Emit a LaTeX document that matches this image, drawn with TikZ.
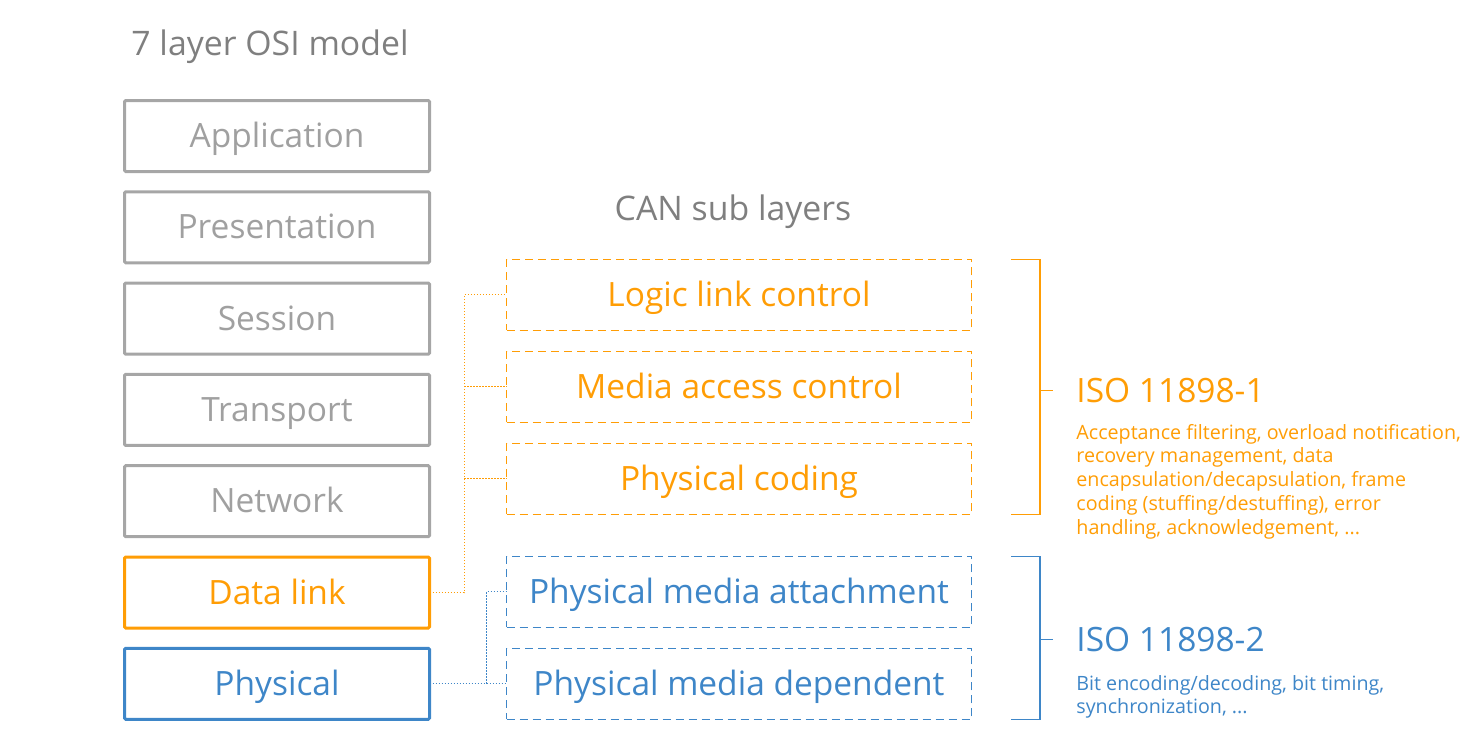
\documentclass[tikz,border=0pt]{standalone}
\usepackage{fontspec}
\setmainfont{Open Sans}
\usetikzlibrary{positioning}
\usetikzlibrary{calc}
\definecolor{osigray}{HTML}{A6A6A6}
\definecolor{ositext}{HTML}{A0A0A0}
\definecolor{headgray}{HTML}{7F7F7F}
\definecolor{canorange}{HTML}{FF9D05}
\definecolor{canblue}{HTML}{3E86C8}
\tikzset{
    osibox/.style = {rectangle, line width=1.5pt, draw=osigray, rounded corners=0.6pt, minimum width=152.5pt, minimum height=35.5pt, inner sep=0pt, outer sep=0pt, text height=14pt, text depth=2.5pt, text=ositext, font=\fontsize{16.75}{20}\selectfont},
    osiboxo/.style = {osibox, draw=canorange, text=canorange},
    osiboxb/.style = {osibox, draw=canblue, text=canblue},
    subbox/.style = {rectangle, line width=0.75pt, dash pattern=on 4pt off 2.5pt, minimum width=232.5pt, minimum height=35.5pt, inner sep=0pt, outer sep=0pt, text height=14pt, text depth=2.5pt, font=\fontsize{16.75}{20}\selectfont},
    subboxo/.style = {subbox, draw=canorange, text=canorange},
    subboxb/.style = {subbox, draw=canblue, text=canblue},
    linko/.style = {line width=0.5pt, canorange, dash pattern=on 0.75pt off 0.75pt},
    linkb/.style = {line width=0.5pt, canblue, dash pattern=on 0.75pt off 0.75pt},
    brko/.style = {line width=0.6pt, canorange},
    brkb/.style = {line width=0.6pt, canblue},
    heading/.style = {inner sep=0pt, text=headgray, font=\fontsize{16.9}{20}\selectfont},
    isotitle/.style = {inner sep=0pt, font=\fontsize{16.75}{20}\selectfont},
    isotext/.style = {inner sep=0pt, align=left, font=\fontsize{9.85}{11.85}\selectfont}
}
\begin{document}
\begin{tikzpicture}[x=0.5pt, y=-0.5pt, node distance=10.15pt]
  \useasboundingbox (0,0) rectangle (1466,746);

  % osi layers
  \node[osibox] (app) at (277,136) {Application};
  \node[osibox, below=of app] (pres) {Presentation};
  \node[osibox, below=of pres] (sess) {Session};
  \node[osibox, below=of sess] (trans) {Transport};
  \node[osibox, below=of trans] (net) {Network};
  \node[osiboxo, below=of net] (dl) {Data link};
  \node[osiboxb, below=of dl] (phy) {Physical};
  \node[heading, anchor=base west] (ositle) at (131,55) {7 layer OSI model};

  % can sub layers
  \node[subboxb, right=38.5pt of phy] (pmd) {Physical media dependent};
  \node[subboxb, above=10.5pt of pmd] (pma) {Physical media attachment};
  \node[subboxo, above=21pt of pma] (pc) {Physical coding};
  \node[subboxo, above=10.5pt of pc] (mac) {Media access control};
  \node[subboxo, above=10.5pt of mac] (llc) {Logic link control};
  \node[heading, anchor=base] (cantitle) at (733,220) {CAN sub layers};

  % dotted links
  \coordinate (obus) at ([xshift=17.25pt]dl.east);
  \draw[linko] (dl.east) -- (obus) |- (llc.west);
  \draw[linko] (obus |- mac.west) -- (mac.west);
  \draw[linko] (obus |- pc.west) -- (pc.west);
  \coordinate (bbus) at ([xshift=28.5pt]phy.east);
  \draw[linkb] (phy.east) -- (pmd.west);
  \draw[linkb] (bbus) |- (pma.west);

  % brackets
  \draw[brko] ([xshift=19.75pt]llc.north east) -| ([xshift=34.25pt]pc.south east) -- ([xshift=19.75pt]pc.south east);
  \coordinate (omid) at ([xshift=34.25pt,yshift=-1.75pt]mac.east);
  \draw[brko] (omid) -- ++(6.5pt,0);
  \draw[brkb] ([xshift=19.75pt]pma.north east) -| ([xshift=34.25pt]pmd.south east) -- ([xshift=19.75pt]pmd.south east);
  \coordinate (bmid) at ($([xshift=34.25pt,yshift=-0.75pt]pma.east)!0.5!([xshift=34.25pt,yshift=-0.75pt]pmd.east)$);
  \draw[brkb] (bmid) -- ++(6.5pt,0);

  % iso standards
  \node[isotitle, text=canorange, anchor=west] (iso1) at ([xshift=18pt]omid) {ISO 11898-1};
  \node[isotext, text=canorange, anchor=north west] (desc1) at ([yshift=-10.4pt]iso1.south west)
    {Acceptance filtering, overload notification,\\recovery management, data\\encapsulation/decapsulation, frame\\coding (stuffing/destuffing), error\\handling, acknowledgement, ...};
  \node[isotitle, text=canblue, anchor=west] (iso2) at ([xshift=18pt]bmid) {ISO 11898-2};
  \node[isotext, text=canblue, anchor=north west] (desc2) at ([yshift=-11.4pt]iso2.south west)
    {Bit encoding/decoding, bit timing,\\synchronization, ...};
\end{tikzpicture}
\end{document}
